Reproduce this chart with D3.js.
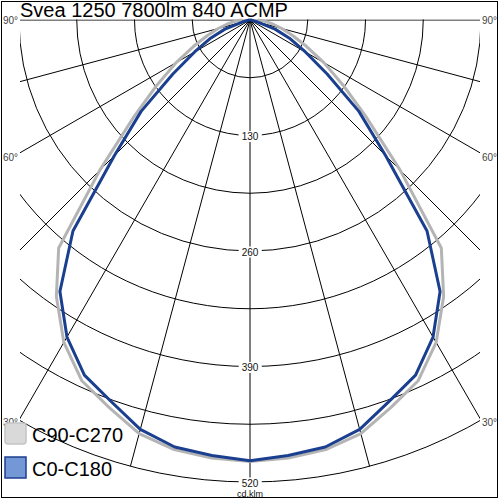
<!DOCTYPE html>
<html><head><meta charset="utf-8">
<script src="https://cdn.jsdelivr.net/npm/d3@7"></script>
<style>body{margin:0;background:#fff}svg{display:block}</style>
</head><body>
<script>
const title = "Svea 1250 7800lm 840 ACMP";
const unitLabel = "cd.klm";
const angles = [0,5,10,15,20,25,30,35,40,45,50,55,60,65,70,75,80,85,90];
const c0c180 = [496,492,488,477,457,441,412,373,310,216,160,106,72,50,30,9,3,1,0];
const c90c270 = [497,495,491,482,464,448,419,380,335,239,172,128,96,70,51,37,26,17,9];
const ringValues = [65,130,195,260,325,390,455,520];
const ringLabels = [130,260,390,520];
const gridAngles = [-90,-75,-60,-45,-30,-15,0,15,30,45,60,75,90];
const angleLabels = [90,60,30];
const seriesNames = ["C90-C270","C0-C180"];

const W=500,H=500, cx=250, cy=20;
const svg=d3.select("body").append("svg").attr("width",W).attr("height",H);
const r=d3.scaleLinear().domain([0,520]).range([0,462]);
const rad=d=>d*Math.PI/180;

svg.append("rect").attr("x",1.5).attr("y",1.5).attr("width",496).attr("height",496)
  .attr("fill","#fff").attr("stroke","#000").attr("stroke-width",1);

svg.append("defs").append("clipPath").attr("id","clip")
  .append("rect").attr("x",20).attr("y",19.5).attr("width",460).attr("height",470);

const g=svg.append("g").attr("clip-path","url(#clip)");
const gc=g.append("g").attr("transform",`translate(${cx},${cy})`);
gc.selectAll("circle.ring").data(ringValues).join("circle").attr("class","ring")
  .attr("r",d=>r(d)).attr("fill","none").attr("stroke","#000").attr("stroke-width",1);
gc.selectAll("line.spoke").data(gridAngles).join("line").attr("class","spoke")
  .attr("x1",0).attr("y1",0)
  .attr("x2",d=>r(520)*Math.sin(rad(d))).attr("y2",d=>r(520)*Math.cos(rad(d)))
  .attr("stroke","#000").attr("stroke-width",1);

// angle labels
const lab=svg.append("g").attr("font-family","Arial, 'Liberation Sans', sans-serif").attr("font-size",10).attr("fill","#444");
function edgePoint(a){
  const s=Math.sin(rad(a)), c=Math.cos(rad(a));
  let t=r(520);
  if (Math.abs(s)>1e-6) t=Math.min(t,(230)/Math.abs(s));
  return [cx+t*s, cy+t*c];
}
angleLabels.forEach(a=>{
  const [x,y]=edgePoint(-a);
  const off = a===90?0:4.5;
  lab.append("text").attr("x",3).attr("y",y+off).attr("dy","0.35em").text(a+"°");
  lab.append("text").attr("x",482).attr("y",y+off).attr("dy","0.35em").text(a+"°");
});

// curves
const line=d3.lineRadial().angle(d=>Math.PI-rad(d[0])).radius(d=>r(d[1])).curve(d3.curveLinear);
function full(vals){
  const left=angles.map((a,i)=>[-a,vals[i]]).reverse();
  const right=angles.map((a,i)=>[a,vals[i]]).slice(1);
  return left.concat(right);
}
const cg=svg.append("g").attr("transform",`translate(${cx},${cy})`);
cg.append("path").attr("d",line(full(c90c270))).attr("fill","none").attr("stroke","#b4b4b4").attr("stroke-width",3).attr("stroke-linejoin","round");
cg.append("path").attr("d",line(full(c0c180))).attr("fill","none").attr("stroke","#1b3f8f").attr("stroke-width",3).attr("stroke-linejoin","round");

// ring value labels
const vl=svg.append("g").attr("font-family","Arial, 'Liberation Sans', sans-serif").attr("font-size",10).attr("fill","#111");
ringLabels.forEach(v=>{
  const y=cy+r(v)+1;
  const t=vl.append("text").attr("x",cx).attr("y",y).attr("dy","0.35em").attr("text-anchor","middle").text(v);
  const bb=t.node().getBBox();
  vl.insert("rect","text").attr("x",bb.x-3).attr("y",bb.y).attr("width",bb.width+6).attr("height",bb.height).attr("fill","#fff");
});
vl.append("text").attr("x",cx).attr("y",cy+r(520)+12).attr("dy","0.35em").attr("text-anchor","middle").attr("font-size",9).text(unitLabel);

// title
svg.append("text").attr("x",20).attr("y",17).attr("font-family","Arial, 'Liberation Sans', sans-serif")
  .attr("font-size",20).attr("fill","#000").text(title);

// legend
const lg=svg.append("g").attr("font-family","Arial, 'Liberation Sans', sans-serif").attr("font-size",20).attr("fill","#000");
const sw=[{fill:"#d9d9d9",stroke:"#c4c4c4"},{fill:"#7497d6",stroke:"#1b3f8f"}];
seriesNames.forEach((n,i)=>{
  const y=423+i*34;
  lg.append("rect").attr("x",5).attr("y",y).attr("width",21).attr("height",21).attr("rx",i===0?3:0)
    .attr("fill",sw[i].fill).attr("stroke",sw[i].stroke).attr("stroke-width",1.5);
  lg.append("text").attr("x",32).attr("y",y+19).text(n);
});
</script>
</body></html>
